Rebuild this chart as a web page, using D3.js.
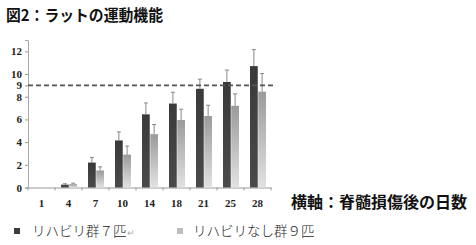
<!DOCTYPE html>
<html>
<head>
<meta charset="utf-8">
<script src="https://cdn.jsdelivr.net/npm/d3@7"></script>
<style>
  body { margin: 0; background: #fff; }
  svg { display: block; }
</style>
</head>
<body>
<svg id="chart" width="476" height="245"></svg>
<script>
// data
let days = ['1', '4', '7', '10', '14', '18', '21', '25', '28'];
let rehabMean = [0, 0.25, 2.2, 4.15, 6.45, 7.4, 8.7, 9.3, 10.7];
let rehabErr = [0, 0.08, 0.45, 0.75, 1.0, 1.0, 0.85, 1.05, 1.45];
let noRehabMean = [0, 0.3, 1.5, 2.9, 4.7, 5.95, 6.3, 7.2, 8.45];
let noRehabErr = [0, 0.08, 0.32, 0.75, 0.85, 0.95, 0.95, 1.05, 1.6];
let yTicks = [0, 2, 4, 6, 8, 9, 10, 12];
let refLine = 9;
let seriesNames = ['リハビリ群７匹', 'リハビリなし群９匹'];

let svg = d3.select('#chart');

let x = d3.scaleBand()
    .domain(days)
    .range([28, 271])
    .padding(0);

let y = d3.scaleLinear()
    .domain([0, 13])
    .range([187.5, 40]);

let x1 = d3.scaleBand()
    .domain(['rehab', 'none'])
    .range([x.bandwidth() / 2 - 7.5, x.bandwidth() / 2 + 8.5])
    .paddingInner(0.06);

// gradients for bars
let defs = svg.append('defs');
let gDark = defs.append('linearGradient')
    .attr('id', 'gDark').attr('x1', 0).attr('x2', 0).attr('y1', 0).attr('y2', 1);
gDark.append('stop').attr('offset', '0%').attr('stop-color', '#3a3a3a');
gDark.append('stop').attr('offset', '100%').attr('stop-color', '#4a4a4a');
let gLight = defs.append('linearGradient')
    .attr('id', 'gLight').attr('x1', 0).attr('x2', 0).attr('y1', 0).attr('y2', 1);
gLight.append('stop').attr('offset', '0%').attr('stop-color', '#9a9a9a');
gLight.append('stop').attr('offset', '100%').attr('stop-color', '#e2e2e2');

// title
svg.append('text')
    .attr('x', 6)
    .attr('y', 21)
    .attr('font-family', '"Noto Sans CJK JP", sans-serif')
    .attr('font-weight', 'bold')
    .attr('font-size', '15.5px')
    .attr('fill', '#111')
    .attr('textLength', 157)
    .attr('lengthAdjust', 'spacingAndGlyphs')
    .text('図2：ラットの運動機能');

// left axis
let yAxis = svg.append('g')
    .attr('transform', 'translate(28,0)')
    .call(d3.axisLeft(y).tickValues(yTicks).tickSize(3).tickFormat(d3.format('d')));
yAxis.select('.domain').attr('stroke', '#aaa');
yAxis.selectAll('.tick line').attr('stroke', '#999');
yAxis.selectAll('.tick text')
    .attr('font-family', '"Liberation Serif", serif')
    .attr('font-weight', 'bold')
    .attr('font-size', '11px')
    .attr('fill', '#222')
    .attr('x', -6);

// bottom axis
let xAxis = svg.append('g')
    .attr('transform', `translate(0,${y(0)})`)
    .call(d3.axisBottom(x).tickSize(0).tickPadding(12));
xAxis.select('.domain').attr('stroke', '#999');
xAxis.selectAll('.tick text')
    .attr('font-family', '"Liberation Serif", serif')
    .attr('font-weight', 'bold')
    .attr('font-size', '11px')
    .attr('fill', '#222');
xAxis.selectAll('.sep')
    .data(d3.range(days.length + 1))
    .enter()
    .append('line')
    .attr('x1', i => 28 + i * x.bandwidth())
    .attr('x2', i => 28 + i * x.bandwidth())
    .attr('y1', 0)
    .attr('y2', 3)
    .attr('stroke', '#999');

// bars
let groups = svg.append('g')
    .selectAll('g')
    .data(days)
    .enter()
    .append('g')
    .attr('transform', d => `translate(${x(d)},0)`);

function drawSeries(key, means, errs, fill) {
    groups.append('rect')
        .attr('x', x1(key))
        .attr('width', x1.bandwidth())
        .attr('y', (d, i) => y(means[i]))
        .attr('height', (d, i) => y(0) - y(means[i]))
        .attr('fill', fill);
    groups.filter((d, i) => means[i] > 0)
        .append('line')
        .attr('x1', x1(key) + x1.bandwidth() / 2)
        .attr('x2', x1(key) + x1.bandwidth() / 2)
        .attr('y1', d => y(means[days.indexOf(d)]))
        .attr('y2', d => y(means[days.indexOf(d)] + errs[days.indexOf(d)]))
        .attr('stroke', '#888')
        .attr('stroke-width', 1);
    groups.filter((d, i) => means[i] > 0)
        .append('line')
        .attr('x1', x1(key) + x1.bandwidth() / 2 - 2)
        .attr('x2', x1(key) + x1.bandwidth() / 2 + 2)
        .attr('y1', d => y(means[days.indexOf(d)] + errs[days.indexOf(d)]))
        .attr('y2', d => y(means[days.indexOf(d)] + errs[days.indexOf(d)]))
        .attr('stroke', '#888')
        .attr('stroke-width', 1);
}
drawSeries('rehab', rehabMean, rehabErr, 'url(#gDark)');
drawSeries('none', noRehabMean, noRehabErr, 'url(#gLight)');

// reference dashed line at 9
svg.append('line')
    .attr('x1', 28)
    .attr('x2', 273)
    .attr('y1', y(refLine))
    .attr('y2', y(refLine))
    .attr('stroke', '#555')
    .attr('stroke-width', 1.6)
    .attr('stroke-dasharray', '5,3');

// axis caption
svg.append('text')
    .attr('x', 291)
    .attr('y', 208)
    .attr('font-family', '"Noto Sans CJK JP", sans-serif')
    .attr('font-weight', 'bold')
    .attr('font-size', '16px')
    .attr('fill', '#111')
    .attr('textLength', 176)
    .attr('lengthAdjust', 'spacingAndGlyphs')
    .text('横軸：脊髄損傷後の日数');

// legend
let legend = svg.append('g').attr('transform', 'translate(0,231)');
let legendFills = ['#3c3c3c', '#bdbdbd'];
let legendX = [14, 177];
let legendTextX = [32, 193];
seriesNames.forEach((name, i) => {
    legend.append('rect')
        .attr('x', legendX[i])
        .attr('y', -3)
        .attr('width', 6)
        .attr('height', 6)
        .attr('fill', legendFills[i]);
    let t = legend.append('text')
        .attr('x', legendTextX[i])
        .attr('y', 5)
        .attr('font-family', '"Noto Sans CJK JP", sans-serif')
        .attr('font-weight', 300)
        .attr('font-size', '13.5px')
        .attr('fill', '#222')
        .text(name);
    if (i === 0) {
        t.append('tspan').attr('fill', '#aaa').attr('font-size', '9px').text('↵');
    }
});
</script>
</body>
</html>
